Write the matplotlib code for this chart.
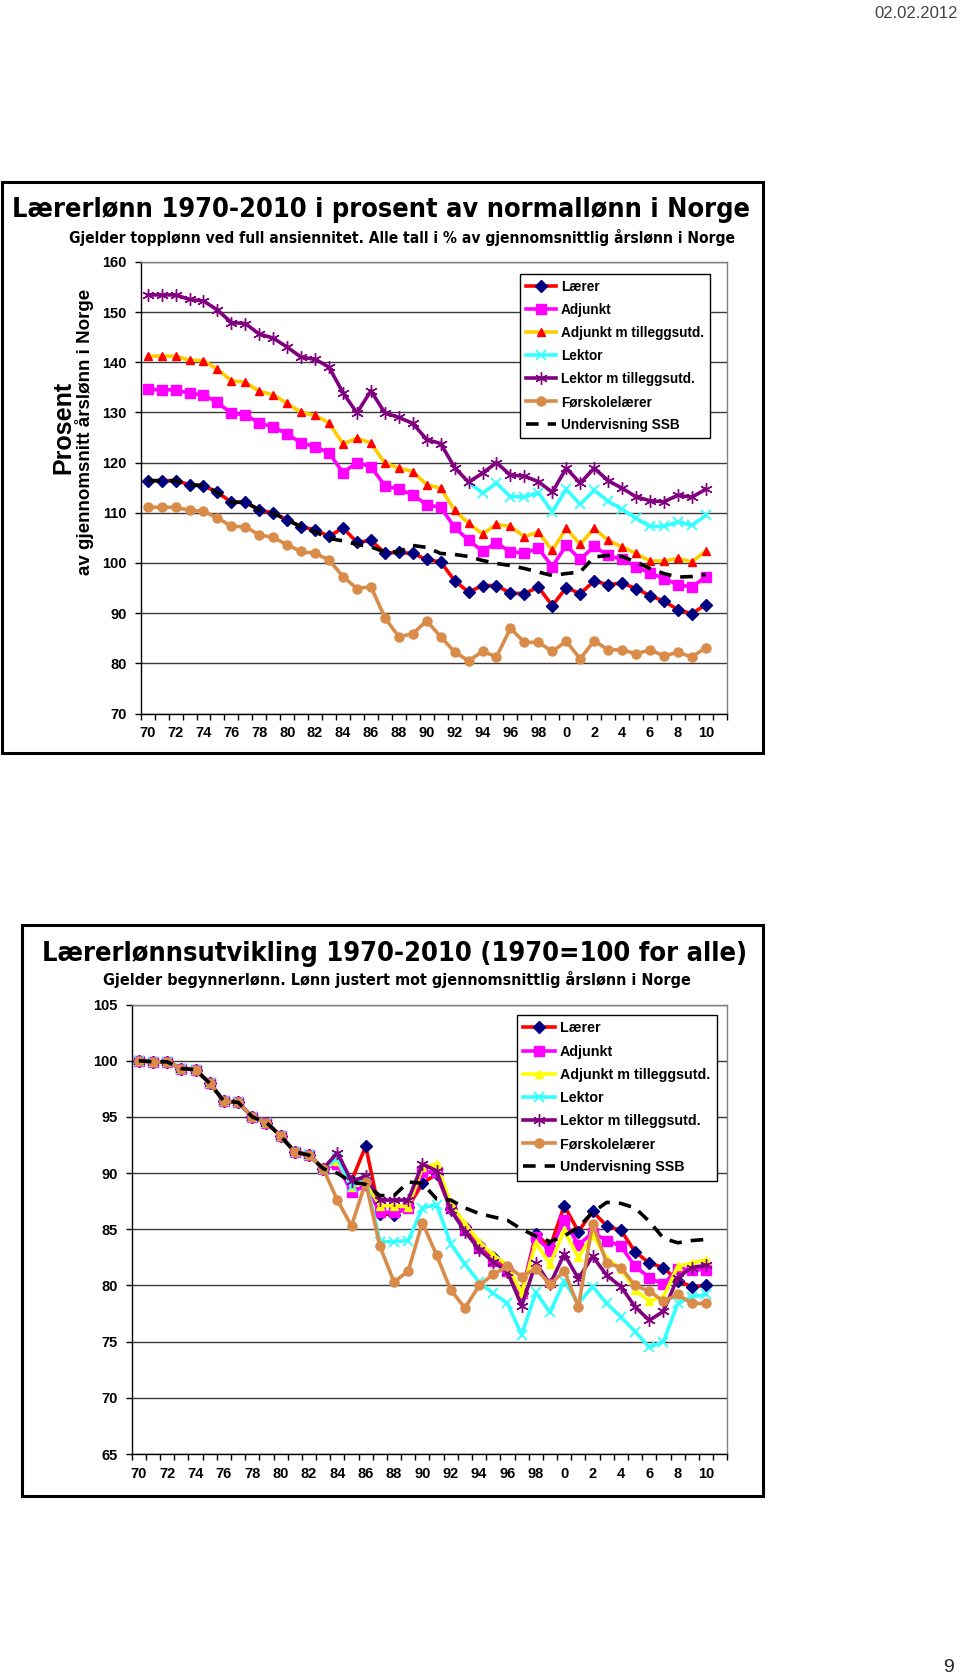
import matplotlib
matplotlib.use('Agg')
import matplotlib.pyplot as plt
from matplotlib import font_manager
from matplotlib.patches import Rectangle
import numpy as np

# ---- data ----
year_labels = ['70', '72', '74', '76', '78', '80', '82', '84', '86', '88', '90',
               '92', '94', '96', '98', '0', '2', '4', '6', '8', '10']
series_names = ['Lærer', 'Adjunkt', 'Adjunkt m tilleggsutd.', 'Lektor',
                'Lektor m tilleggsutd.', 'Førskolelærer', 'Undervisning SSB']

# top chart: topplønn i % av gjennomsnittlig årslønn, 1970-2010
top_laerer = [116.4, 116.4, 116.4, 115.6, 115.4, 114.1, 112.1, 112.1, 110.6, 109.9,
              108.6, 107.2, 106.6, 105.3, 107.0, 104.1, 104.5, 102.0, 102.1, 101.9,
              100.7, 100.2, 96.5, 94.2, 95.5, 95.5, 94.0, 93.9, 95.2, 91.5,
              95.1, 93.9, 96.4, 95.7, 96.0, 94.9, 93.5, 92.4, 90.7, 89.9, 91.7]
top_adjunkt = [134.6, 134.5, 134.5, 133.8, 133.5, 132.0, 129.8, 129.5, 127.9, 127.1,
               125.7, 123.9, 123.2, 121.9, 118.0, 120.0, 119.2, 115.4, 114.7, 113.6,
               111.6, 111.1, 107.1, 104.5, 102.4, 104.0, 102.2, 102.0, 102.9, 99.3,
               103.5, 100.7, 103.3, 101.5, 100.7, 99.3, 98.0, 96.9, 95.7, 95.2, 97.3]
top_adjunkt_t = [141.2, 141.2, 141.2, 140.4, 140.3, 138.6, 136.3, 136.0, 134.2, 133.5,
                 131.8, 130.0, 129.4, 127.9, 123.7, 124.9, 123.9, 119.9, 118.9, 118.2,
                 115.6, 114.9, 110.5, 107.9, 105.8, 107.7, 107.3, 105.2, 106.2, 102.5,
                 106.9, 103.7, 106.9, 104.5, 103.2, 101.9, 100.4, 100.4, 100.9, 100.2, 102.4]
top_lektor = [None] * 23 + [116.1, 113.9, 115.9, 113.2, 113.2, 114.0, 110.2, 114.7,
                            111.7, 114.5, 112.3, 110.7, 108.9, 107.3, 107.3, 108.2,
                            107.5, 109.5]
top_lektor_t = [153.4, 153.4, 153.4, 152.5, 152.2, 150.4, 147.9, 147.7, 145.6, 144.8,
                143.0, 141.0, 140.6, 139.0, 133.9, 129.9, 134.3, 129.9, 129.0, 127.8,
                124.6, 123.8, 119.0, 116.1, 117.9, 120.0, 117.5, 117.3, 116.2, 114.1,
                118.9, 115.9, 118.9, 116.4, 114.9, 113.2, 112.4, 112.2, 113.5, 113.1, 114.7]
top_forskole = [111.1, 111.1, 111.1, 110.5, 110.3, 109.0, 107.3, 107.2, 105.6, 105.1,
                103.6, 102.3, 101.9, 100.6, 97.3, 94.9, 95.3, 89.1, 85.3, 85.9,
                88.5, 85.3, 82.3, 80.5, 82.4, 81.3, 87.0, 84.2, 84.2, 82.4,
                84.4, 80.9, 84.5, 82.7, 82.7, 81.9, 82.7, 81.5, 82.2, 81.3, 83.1]
top_ssb = [116.4, 116.4, 116.4, 115.6, 115.4, 114.1, 112.1, 112.1, 110.6, 109.9,
           108.6, 107.2, 106.2, 104.9, 104.4, 103.7, 103.2, 102.2, 102.2, 103.5,
           103.1, 101.9, 101.7, 101.3, 100.5, 99.9, 99.5, 98.9, 98.2, 97.5,
           97.9, 98.2, 101.2, 101.5, 101.3, 100.2, 98.9, 97.9, 97.2, 97.3, 97.7]

# bottom chart: begynnerlønn, 1970=100
bot_common = [100.0, 99.9, 99.9, 99.3, 99.2, 98.0, 96.4, 96.3, 95.0, 94.5, 93.3, 91.9, 91.6, 90.4]
bot_laerer = bot_common + [91.0, 89.3, 92.4, 86.4, 86.3, 87.0, 89.1, 89.9, 86.8, 85.2,
                           83.6, 82.5, 81.5, 79.3, 84.6, 83.4, 87.1, 84.8, 86.6, 85.3,
                           84.9, 83.0, 82.0, 81.6, 80.4, 79.9, 80.0]
bot_adjunkt = bot_common + [90.8, 88.3, 88.9, 86.5, 86.5, 86.9, 90.1, 90.1, 86.9, 84.9,
                            83.3, 82.2, 81.3, 79.3, 84.3, 83.1, 85.8, 83.6, 84.7, 84.0,
                            83.5, 81.7, 80.7, 80.1, 81.5, 81.4, 81.4]
bot_adjunkt_t = bot_common + [91.1, 88.8, 89.2, 87.1, 87.1, 87.0, 90.5, 90.8, 87.3, 85.5,
                              83.9, 82.7, 81.8, 79.3, 83.8, 81.9, 84.9, 82.5, 84.5, 82.4,
                              81.5, 79.6, 78.6, 79.0, 81.7, 82.0, 82.3]
bot_lektor = bot_common + [91.3, 88.8, 89.5, 83.9, 83.9, 84.0, 86.9, 87.2, 83.7, 81.9,
                           80.3, 79.3, 78.4, 75.6, 79.4, 77.6, 80.4, 78.4, 79.9, 78.4,
                           77.2, 75.9, 74.5, 75.0, 78.4, 79.0, 79.2]
bot_lektor_t = bot_common + [91.8, 89.3, 89.7, 87.6, 87.6, 87.6, 90.8, 90.2, 86.7, 84.8,
                             83.2, 82.1, 81.2, 78.2, 82.0, 80.1, 82.8, 80.6, 82.6, 80.9,
                             79.9, 78.1, 76.9, 77.7, 80.7, 81.6, 81.8]
bot_forskole = bot_common + [87.6, 85.3, 89.2, 83.5, 80.3, 81.3, 85.6, 82.7, 79.6, 78.0,
                             80.0, 81.0, 81.7, 80.8, 81.5, 80.1, 81.3, 78.1, 85.5, 82.0,
                             81.6, 80.0, 79.5, 78.6, 79.2, 78.4, 78.4]
bot_ssb = bot_common + [90.0, 89.2, 89.0, 88.0, 88.0, 89.2, 89.1, 87.7, 87.6, 86.9,
                        86.4, 86.1, 85.8, 85.0, 84.4, 83.9, 84.4, 85.2, 86.5, 87.4,
                        87.3, 86.9, 85.7, 84.2, 83.8, 84.0, 84.1]

# ---- fonts ----
avail = {f.name for f in font_manager.fontManager.ttflist}
narrow = 'Liberation Sans Narrow' if 'Liberation Sans Narrow' in avail else 'DejaVu Sans'
plt.rcParams['font.family'] = ['Liberation Sans', 'DejaVu Sans']
plt.rcParams['font.weight'] = 'bold'

W, H = 960, 1680
fig = plt.figure(figsize=(W / 100, H / 100), dpi=100)


def fx(px):
    return px / W


def fy(py):
    return 1 - py / H


def fit(t, target):
    r = fig.canvas.get_renderer()
    bb = t.get_window_extent(r)
    w = bb.height if t.get_rotation() == 90 else bb.width
    t.set_fontsize(t.get_fontsize() * target / w)


styles = [
    dict(color='#FF0000', marker='D', mfc='#000080', mec='#000080', ms=6.5),
    dict(color='#FF00FF', marker='s', mfc='#FF00FF', mec='#FF00FF', ms=7),
    dict(color='#FFCC00', marker='^', mfc='#FF0000', mec='#FF0000', ms=6),
    dict(color='#33FFFF', marker='x', mfc='#33FFFF', mec='#33FFFF', ms=7, mew=1.3),
    dict(color='#800080', marker=(6, 2, 0), mfc='#800080', mec='#800080', ms=9, mew=1),
    dict(color='#D98C4A', marker='o', mfc='#D98C4A', mec='#D98C4A', ms=6.5),
    dict(color='black', linestyle=(0, (3.5, 2.5)), marker=None),
]


def draw(ax, data, yellow_tri=False):
    x = np.arange(41)
    handles = []
    for name, vals, st in zip(series_names, data, styles):
        st = dict(st)
        if yellow_tri and st.get('marker') == '^':
            st.update(color='#FFFF00', mfc='#FFFF00', mec='#FFFF00')
        y = np.array([np.nan if v is None else v for v in vals], dtype=float)
        ln, = ax.plot(x, y, lw=2.6, label=name, **st)
        handles.append(ln)
    return handles


def setup(ax, ymin, ymax, step):
    ax.set_xlim(-0.5, 41.5)
    ax.set_ylim(ymin, ymax)
    ax.set_yticks(np.arange(ymin, ymax + 0.1, step))
    ax.yaxis.grid(True, color='#3a3a3a', lw=1)
    ax.set_axisbelow(True)
    ax.set_xticks(np.arange(0, 41, 2))
    ax.set_xticklabels(year_labels)
    ax.set_xticks(np.arange(-0.5, 42, 1), minor=True)
    ax.tick_params(axis='x', which='major', length=0, pad=9, labelsize=10.5)
    ax.tick_params(axis='x', which='minor', length=4, width=1, direction='out')
    ax.tick_params(axis='y', length=4, width=1, pad=6, labelsize=10.5)
    for s in ['top', 'right']:
        ax.spines[s].set_color('#808080')
        ax.spines[s].set_linewidth(1)
    for s in ['left', 'bottom']:
        ax.spines[s].set_color('black')
        ax.spines[s].set_linewidth(1)


def add_legend(ax, handles, x0, y0, size, spacing):
    leg = ax.legend(handles=handles, loc='upper left', bbox_to_anchor=(fx(x0), fy(y0)),
                    bbox_transform=fig.transFigure, fancybox=False, framealpha=1,
                    edgecolor='black', numpoints=1, handlelength=2.2, handletextpad=0.35,
                    labelspacing=spacing, borderpad=0.45, borderaxespad=0,
                    prop=font_manager.FontProperties(family='Liberation Sans',
                                                     weight='bold', size=size))
    leg.get_frame().set_linewidth(1)
    return leg


# ---- top chart ----
ax1 = fig.add_axes([fx(140.7), fy(713.6), fx(726.7) - fx(140.7), fy(261.8) - fy(713.6)])
h1 = draw(ax1, [top_laerer, top_adjunkt, top_adjunkt_t, top_lektor,
                top_lektor_t, top_forskole, top_ssb])
setup(ax1, 70, 160, 10)
add_legend(ax1, h1, 520, 274, 9.8, 0.66)

# ---- bottom chart ----
ax2 = fig.add_axes([fx(131.7), fy(1454.1), fx(727.3) - fx(131.7), fy(1004.5) - fy(1454.1)])
h2 = draw(ax2, [bot_laerer, bot_adjunkt, bot_adjunkt_t, bot_lektor,
                bot_lektor_t, bot_forskole, bot_ssb], yellow_tri=True)
setup(ax2, 65, 105, 5)
add_legend(ax2, h2, 517, 1015, 10.3, 0.64)

# ---- frames ----
fig.patches.append(Rectangle((fx(2), fy(753)), fx(763) - fx(2), fy(182) - fy(753),
                             transform=fig.transFigure, fill=False, ec='black', lw=2.2))
fig.patches.append(Rectangle((fx(22), fy(1496)), fx(763) - fx(22), fy(925) - fy(1496),
                             transform=fig.transFigure, fill=False, ec='black', lw=2.2))

# ---- titles ----
t1 = fig.text(fx(381), fy(210), 'Lærerlønn 1970-2010 i prosent av normallønn i Norge',
              ha='center', va='center', family=narrow, fontstretch='condensed',
              weight='bold', fontsize=24)
t2 = fig.text(fx(402), fy(238), 'Gjelder topplønn ved full ansiennitet. '
              'Alle tall i % av gjennomsnittlig årslønn i Norge',
              ha='center', va='center', family=narrow, fontstretch='condensed',
              weight='bold', fontsize=14)
t3 = fig.text(fx(395), fy(954), 'Lærerlønnsutvikling 1970-2010 (1970=100 for alle)',
              ha='center', va='center', family=narrow, fontstretch='condensed',
              weight='bold', fontsize=24)
t4 = fig.text(fx(397), fy(979), 'Gjelder begynnerlønn. Lønn justert mot '
              'gjennomsnittlig årslønn i Norge',
              ha='center', va='center', family=narrow, fontstretch='condensed',
              weight='bold', fontsize=14)
t5 = fig.text(fx(63), fy(427), 'Prosent', rotation=90, ha='center', va='center',
              weight='bold', fontsize=16)
t6 = fig.text(fx(85), fy(432), 'av gjennomsnitt årslønn i Norge', rotation=90,
              ha='center', va='center', weight='bold', fontsize=12)
fit(t1, 740)
fit(t2, 671)
fit(t3, 709)
fit(t4, 588)
fit(t5, 93)
fit(t6, 285)

fig.text(fx(916), fy(13), '02.02.2012', ha='center', va='center', fontsize=12,
         weight='normal', color='#444444')
fig.text(fx(948), fy(1667), '9', ha='center', va='center', fontsize=14,
         weight='normal', color='#222222')

fig.savefig('out.png', dpi=100)
